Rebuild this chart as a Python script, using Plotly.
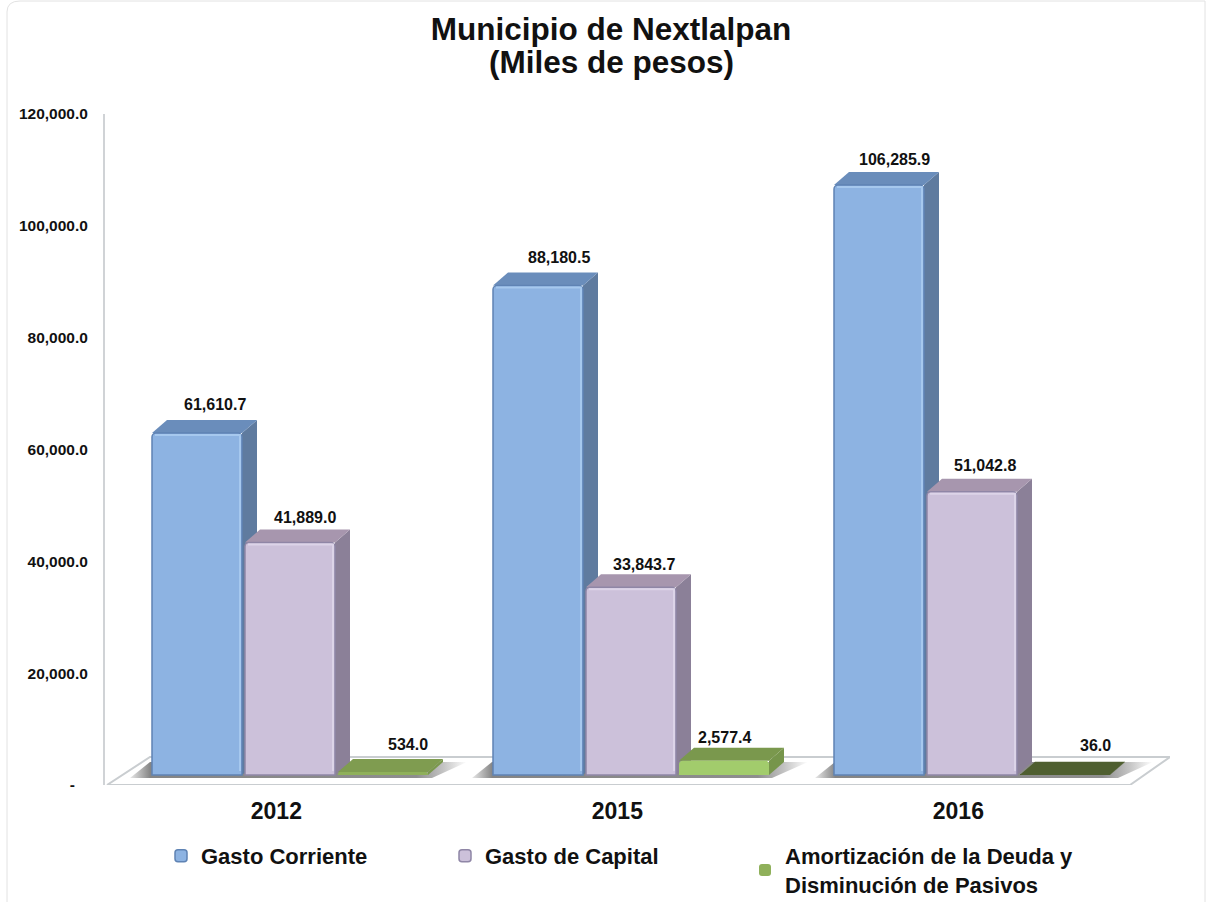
import plotly.graph_objects as go

TITLE_LINES = ["Municipio de Nextlalpan", "(Miles de pesos)"]
YEARS = ["2012", "2015", "2016"]
GASTO_CORRIENTE = [61610.7, 88180.5, 106285.9]
GASTO_CAPITAL = [41889.0, 33843.7, 51042.8]
AMORTIZACION = [534.0, 2577.4, 36.0]
NAMES = ["Gasto Corriente", "Gasto de Capital", "Amortización de la Deuda y<br>Disminución de Pasivos"]
Y_TICKS = [0, 20000, 40000, 60000, 80000, 100000, 120000]
Y_TICK_TEXT = ["-&nbsp;&nbsp;&nbsp;", "20,000.0", "40,000.0", "60,000.0", "80,000.0", "100,000.0", "120,000.0"]

# geometry (pixels of the page -> axis units)
W, H = 1206, 902
L, R, T, B = 105, 1170, 114, 785
PX_PER_X = 341.0
X0_PX = 290.0
PX_PER_Y = 5.55 / 1000
BASE_PX = 775
xr = [(L - X0_PX) / PX_PER_X, (R - X0_PX) / PX_PER_X]
yr_bars = [-(B - BASE_PX) / PX_PER_Y, (BASE_PX - T) / PX_PER_Y]
DX = 15 / PX_PER_X
DY = 13 / PX_PER_Y
BW = 90 / PX_PER_X
OFFS = [-93 / PX_PER_X, 0, 93 / PX_PER_X]
FONT = "Liberation Sans"

def X(px):
    return (px - X0_PX) / PX_PER_X

def Yb(py):
    return (BASE_PX - py) / PX_PER_Y

def Ya(py):
    return (B - py) * 120000 / (B - T)

series = [GASTO_CORRIENTE, GASTO_CAPITAL, AMORTIZACION]
front = [["#8db3e2"] * 3, ["#ccc1da"] * 3, ["#8fb05a", "#a2cc6c", "#4f5f30"]]
edge = ["#5f83b4", "#8f86a6", "#7d9a4e"]
rim = ["#a6c8ee", "#dcd4e8", "#bfe08e"]
top = [["#6a8dbb"] * 3, ["#a796ae"] * 3, ["#7f9c50", "#7a984d", "#4f5f30"]]
side = [["#5f7b9f"] * 3, ["#8b8098"] * 3, ["#7a984d", "#76954b", "#4f5f30"]]

fig = go.Figure()

# floor, on the tick axis
fig.add_trace(go.Scatter(
    x=[X(107), X(1130), X(1170), X(150), X(107)],
    y=[Ya(785), Ya(785), Ya(757), Ya(757), Ya(785)],
    mode="lines", line=dict(color="#c9cdd0", width=2), fill="toself", fillcolor="#ffffff",
    cliponaxis=False, showlegend=False, hoverinfo="skip"))

# floor shadows
shadow_px = [(130, 432, 467, 150), (472, 772, 808, 492), (815, 1118, 1153, 835)]
for a, b, c, d in shadow_px:
    fig.add_trace(go.Scatter(
        x=[X(a), X(b), X(c), X(d), X(a)],
        y=[Yb(778), Yb(778), Yb(762), Yb(762), Yb(778)],
        mode="lines", line=dict(width=0), fill="toself",
        fillgradient=dict(type="horizontal", colorscale=[
            [0, "#e8e8e8"], [0.06, "#858585"], [0.85, "#8e8e8e"], [0.93, "#c4c4c4"], [1, "#ffffff"]]),
        yaxis="y2", showlegend=False, hoverinfo="skip"))

# bar sides and tops
for s, vals in enumerate(series):
    for i, v in enumerate(vals):
        x1 = i + OFFS[s] + BW / 2
        x0 = i + OFFS[s] - BW / 2
        fig.add_trace(go.Scatter(
            x=[x1, x1, x1 + DX, x1 + DX, x1], y=[0, v, v + DY, DY, 0],
            mode="lines", line=dict(width=0), fill="toself", fillcolor=side[s][i],
            yaxis="y2", showlegend=False, hoverinfo="skip"))
        fig.add_trace(go.Scatter(
            x=[x0, x1, x1 + DX, x0 + DX, x0], y=[v, v, v + DY, v + DY, v],
            mode="lines", line=dict(width=0), fill="toself", fillcolor=top[s][i],
            yaxis="y2", showlegend=False, hoverinfo="skip"))

# front faces
for s, vals in enumerate(series):
    fig.add_trace(go.Bar(
        x=[i + OFFS[s] for i in range(3)], y=vals, width=BW, name=NAMES[s],
        marker=dict(color=front[s], line=dict(color=edge[s], width=1.5 if s < 2 else 0)),
        yaxis="y3", legend="legend" if s == 0 else f"legend{s + 1}", hoverinfo="skip"))

# light rim on the front faces
for s, vals in enumerate(series[:2]):
    for i, v in enumerate(vals):
        x1 = i + OFFS[s] + BW / 2 - 2 / PX_PER_X
        x0 = i + OFFS[s] - BW / 2 + 3 / PX_PER_X
        fig.add_trace(go.Scatter(
            x=[x0, x1, x1], y=[v - 2 / PX_PER_Y, v - 2 / PX_PER_Y, 4 / PX_PER_Y],
            mode="lines", line=dict(color=rim[s], width=2),
            yaxis="y3", showlegend=False, hoverinfo="skip"))

# value labels
label_shift = [[(18, 29), (21, 28), (15, 26)], [(15, 25), (13, 23), (13, 26)], [(25, 28), (0, 23), (30, 29)]]
ann = []
for s, vals in enumerate(series):
    for i, v in enumerate(vals):
        sx, sy = label_shift[s][i]
        ann.append(dict(x=i + OFFS[s], y=v, xref="x", yref="y3", text=f"<b>{v:,.1f}</b>", showarrow=False,
                        xshift=sx, yshift=sy, font=dict(family=FONT, size=16, color="#111111")))

def PX(px):
    return (px - L) / (R - L)

def PY(py):
    return (B - py) / (B - T)

# second title line
ann.append(dict(x=PX(611), y=PY(62), xref="paper", yref="paper", yanchor="middle",
                text=f"<b>{TITLE_LINES[1]}</b>", showarrow=False,
                font=dict(family=FONT, size=31.5, color="#111111")))

frame = (f"M{PX(7)},{PY(902)} L{PX(7)},{PY(12)} Q{PX(7)},{PY(1)} {PX(20)},{PY(1)} L{PX(1205)},{PY(1)} L{PX(1205)},{PY(902)}")
shapes = [dict(type="path", xref="paper", yref="paper", path=frame, line=dict(color="#e2e2e2", width=1), layer="below")]

legend_common = dict(orientation="v", bgcolor="rgba(0,0,0,0)", yanchor="top", xanchor="left", itemwidth=30,
                     itemclick=False, itemdoubleclick=False,
                     font=dict(family=FONT, size=22, color="#111111", weight="bold"))

fig.update_layout(
    width=W, height=H, margin=dict(l=L, r=W - R, t=T, b=H - B, autoexpand=False),
    paper_bgcolor="#ffffff", plot_bgcolor="rgba(0,0,0,0)",
    barmode="overlay", barcornerradius=4,
    title=dict(text=f"<b>{TITLE_LINES[0]}</b>", x=611 / W, xanchor="center", y=1 - 29 / H, yanchor="middle",
               font=dict(family=FONT, size=31.5, color="#111111")),
    xaxis=dict(range=xr, showgrid=False, zeroline=False, showline=False,
               tickvals=[i - 0.04 for i in range(3)], ticktext=[f"<b>{y}</b>" for y in YEARS],
               ticks="outside", ticklen=5, tickcolor="rgba(0,0,0,0)",
               tickfont=dict(family=FONT, size=23, color="#111111")),
    yaxis=dict(range=[0, 120000], showgrid=False, zeroline=False, showline=True, linecolor="#d0d3d6", linewidth=2,
               tickvals=Y_TICKS, ticktext=[f"<b>{t}</b>" for t in Y_TICK_TEXT],
               ticks="outside", ticklen=12, tickcolor="rgba(0,0,0,0)",
               tickfont=dict(family=FONT, size=15.5, color="#111111")),
    yaxis2=dict(range=yr_bars, overlaying="y", visible=False),
    yaxis3=dict(range=yr_bars, overlaying="y", visible=False),
    annotations=ann, shapes=shapes,
    legend=dict(x=PX(161), y=PY(835), **legend_common),
    legend2=dict(x=PX(445), y=PY(835), **legend_common),
    legend3=dict(x=PX(745), y=PY(835), **legend_common),
)

fig.write_html("out.html", post_script="document.body.style.margin='0';", config=dict(displayModeBar=False))
